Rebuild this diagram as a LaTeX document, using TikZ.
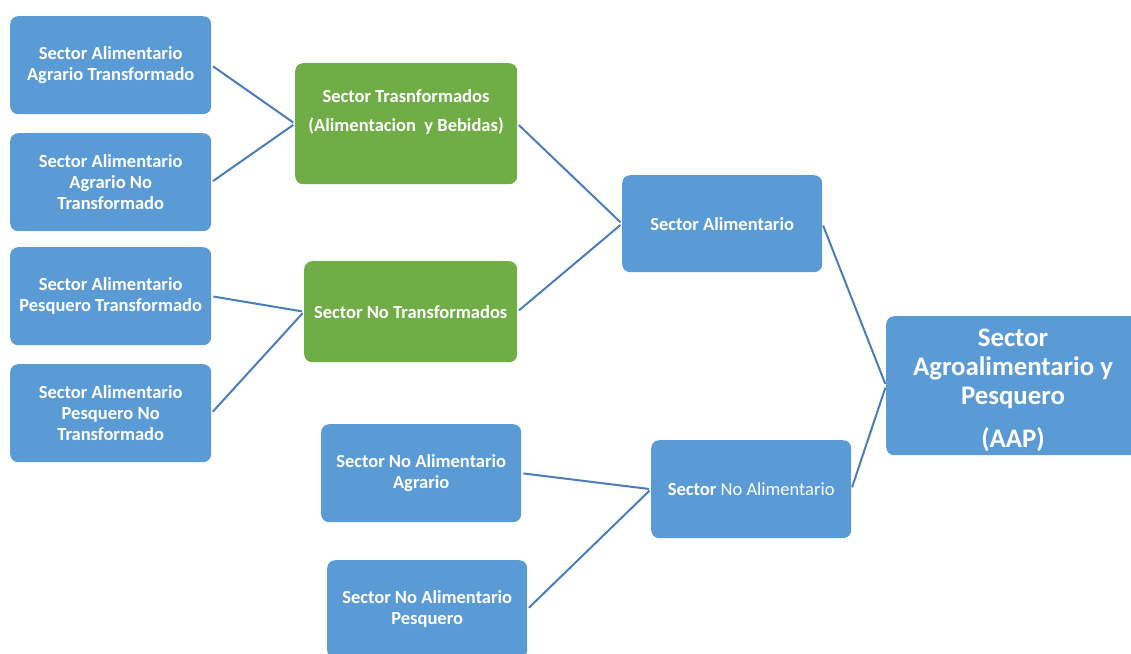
\documentclass[tikz,border=0pt]{standalone}
\usepackage{fontspec}
\setmainfont{Carlito}
\definecolor{boxblue}{HTML}{5B9BD5}
\definecolor{boxgreen}{HTML}{70AD47}
\definecolor{linkblue}{HTML}{4A7EBB}
\begin{document}
\begin{tikzpicture}[x=1pt,y=-1pt,
  box/.style={rectangle, rounded corners=8pt, fill=boxblue, draw=none, text=white,
    align=center, inner sep=0pt, anchor=north west,
    font=\fontsize{18.5}{21}\selectfont\bfseries},
  gbox/.style={box, fill=boxgreen},
  txt/.style={text=white, align=center, inner sep=0pt, font=\fontsize{18.5}{21}\selectfont\bfseries},
  link/.style={draw=linkblue, line width=2pt, shorten <=2pt, shorten >=2pt}]
\useasboundingbox (0,0) rectangle (1131,653);
% left column
\node[box, minimum width=201pt, minimum height=98pt] (A1) at (10,16) {Sector Alimentario\\Agrario Transformado};
\node[box, minimum width=201pt, minimum height=98pt] (A2) at (10,133) {Sector Alimentario\\Agrario No\\Transformado};
\node[box, minimum width=201pt, minimum height=98pt] (A3) at (10,247) {Sector Alimentario\\Pesquero Transformado};
\node[box, minimum width=201pt, minimum height=98pt] (A4) at (10,364) {Sector Alimentario\\Pesquero No\\Transformado};
% green
\node[gbox, minimum width=222pt, minimum height=121pt] (T) at (295,63) {};
\node[txt] (Tt) at (406,112) {Sector Trasnformados\\[8pt](Alimentacion~ y Bebidas)};
\node[gbox, minimum width=213pt, minimum height=101pt] (N) at (304,261) {Sector No Transformados};
% middle
\node[box, minimum width=200pt, minimum height=97pt] (SA) at (622,175) {Sector Alimentario};
\node[box, minimum width=200pt, minimum height=98pt] (NAA) at (321,424) {Sector No Alimentario\\Agrario};
\node[box, minimum width=200pt, minimum height=98pt] (NAP) at (327,560) {Sector No Alimentario\\Pesquero};
\node[box, minimum width=200pt, minimum height=98pt, font=\fontsize{18.5}{21}\selectfont] (NA) at (651,440) {\textbf{Sector} No Alimentario};
% right
\node[box, minimum width=254pt, minimum height=139pt] (AAP) at (886,316) {};
\node[txt, font=\fontsize{26.8}{29}\selectfont\bfseries] (AAPt) at (1013,390)
  {Sector\\Agroalimentario y\\Pesquero\\[14pt](AAP)};
% links
\draw[link] (A1.east) -- (T.west);
\draw[link] (A2.east) -- (T.west);
\draw[link] (A3.east) -- (N.west);
\draw[link] (A4.east) -- (N.west);
\draw[link] (T.east) -- (SA.west);
\draw[link] (N.east) -- (SA.west);
\draw[link] (NAA.east) -- (NA.west);
\draw[link] (NAP.east) -- (NA.west);
\draw[link] (SA.east) -- (AAP.west);
\draw[link] (NA.east) -- (AAP.west);
\end{tikzpicture}
\end{document}
